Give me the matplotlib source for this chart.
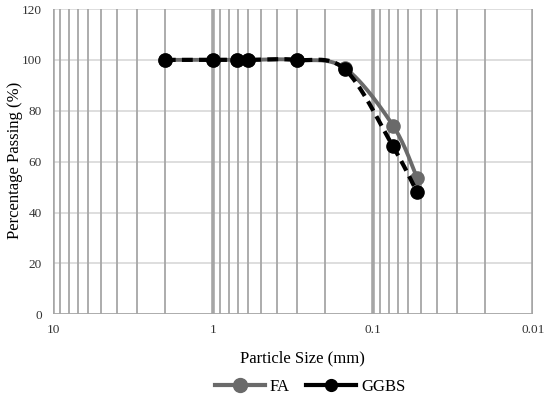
import matplotlib
matplotlib.use('Agg')
import matplotlib.pyplot as plt
import numpy as np
from matplotlib.lines import Line2D
from matplotlib.ticker import FixedLocator, NullFormatter

plt.rcParams['font.family'] = ['Liberation Serif', 'DejaVu Serif']

# sieve sizes (mm) and percentage passing
size = [2.0, 1.0, 0.71, 0.6, 0.3, 0.15, 0.075, 0.053]
fa = [100, 100, 100, 100, 100, 96.8, 74.2, 53.6]
ggbs = [100, 100, 100, 100, 100, 96.3, 66.0, 48.0]
xticks = [10, 1, 0.1, 0.01]
xticklabels = ['10', '1', '0.1', '0.01']
yticks = [0, 20, 40, 60, 80, 100, 120]


def smooth(xv, yv, n=30):
    # Excel-style smoothed line: cubic Bezier segments in (log x, y) space
    px = np.log10(np.asarray(xv, float))
    py = np.asarray(yv, float)
    P = np.column_stack([px, py])
    out = []
    for i in range(len(P) - 1):
        p0 = P[i - 1] if i > 0 else P[i]
        p1, p2 = P[i], P[i + 1]
        p3 = P[i + 2] if i + 2 < len(P) else P[i + 1]
        c1 = p1 + (p2 - p0) / 6.0
        c2 = p2 - (p3 - p1) / 6.0
        t = np.linspace(0, 1, n)[:, None]
        seg = ((1 - t) ** 3) * p1 + 3 * ((1 - t) ** 2) * t * c1 + 3 * (1 - t) * t ** 2 * c2 + t ** 3 * p2
        out.append(seg if i == 0 else seg[1:])
    out = np.vstack(out)
    return 10 ** out[:, 0], out[:, 1]


fig = plt.figure(figsize=(5.5, 3.97), dpi=100)
ax = fig.add_axes([53 / 550, 1 - 314.3 / 397, 480 / 550, 305.3 / 397])

ax.set_xscale('log')
ax.set_xlim(10, 0.01)
ax.set_ylim(0, 120)

# gridlines
vgrid = '#a6a6a6'
for dec in [1, 0.1, 0.01]:
    for k in range(2, 10):
        ax.axvline(dec * k, color=vgrid, lw=1.3, zorder=1)
for d in [10, 1, 0.1, 0.01]:
    ax.axvline(d, color=vgrid, lw=2.6, zorder=1)
for yv in yticks[1:]:
    ax.axhline(yv, color='#d4d4d4', lw=1.1, zorder=0.5)
ax.axhline(0, color='#a6a6a6', lw=1.3, zorder=1)

fa_col = '#6a6a6a'
xs, ys = smooth(size, fa)
ax.plot(xs, ys, color=fa_col, lw=2.8, solid_capstyle='round', zorder=3)
ax.plot(size, fa, 'o', color=fa_col, ms=9.5, mec=fa_col, zorder=4)

xs, ys = smooth(size, ggbs)
ax.plot(xs, ys, color='black', lw=3.0, dashes=(2.6, 1.5), dash_capstyle='butt', zorder=5)
ax.plot(size, ggbs, 'o', color='black', ms=9.5, mec='black', zorder=6)

for s in ax.spines.values():
    s.set_visible(False)

ax.xaxis.set_major_locator(FixedLocator(xticks))
ax.set_xticklabels(xticklabels)
ax.xaxis.set_minor_formatter(NullFormatter())
ax.set_yticks(yticks)
ax.tick_params(axis='both', which='both', length=0, labelsize=9.5, colors='#333333')
ax.tick_params(axis='x', pad=7)
ax.tick_params(axis='y', pad=8)

fig.text(302 / 550, 1 - 358 / 397, 'Particle Size (mm)', fontsize=12, ha='center', va='center')
fig.text(15 / 550, 1 - 160 / 397, 'Percentage Passing (%)', fontsize=12, rotation=90,
         ha='center', va='center')

handles = [
    Line2D([], [], color=fa_col, lw=3.0, marker='o', ms=10, mec=fa_col),
    Line2D([], [], color='black', lw=3.0, marker='o', ms=8.5, mec='black'),
]
fig.legend(handles, ['FA', 'GGBS'], loc='center', bbox_to_anchor=(310 / 550, 1 - 387 / 397),
           ncol=2, frameon=False, fontsize=12, handlelength=3.0, handletextpad=0.3,
           columnspacing=1.0, borderaxespad=0)

fig.savefig('out.png', dpi=100)
